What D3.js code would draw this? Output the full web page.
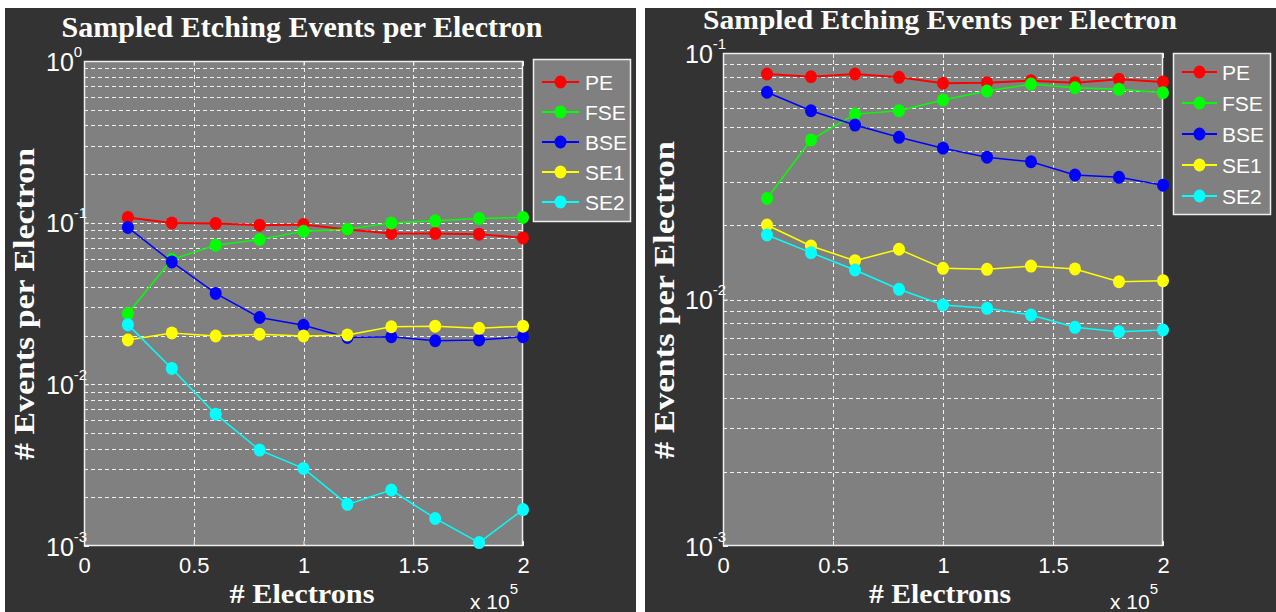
<!DOCTYPE html>
<html><head><meta charset="utf-8">
<script src="https://cdn.jsdelivr.net/npm/d3@7/dist/d3.min.js"></script>
<style>body{margin:0;background:#fff;}svg{display:block}</style>
</head><body>
<svg id="chart" width="1276" height="612"></svg>
<script>
// ---- data ----
const electrons = [20000, 40000, 60000, 80000, 100000, 120000, 140000, 160000, 180000, 200000];
const seriesNames = ["PE", "FSE", "BSE", "SE1", "SE2"];
const seriesColors = ["#ff0000", "#00ff00", "#0000ff", "#ffff00", "#00ffff"];
const xTickValues = [0, 50000, 100000, 150000, 200000];
const xTickLabels = ["0", "0.5", "1", "1.5", "2"];
const titleText = "Sampled Etching Events per Electron";
const yLabelText = "# Events per Electron";
const xLabelText = "# Electrons";

const leftPE  = [0.1077, 0.0997, 0.0989, 0.0965, 0.0975, 0.0908, 0.0858, 0.0858, 0.0849, 0.0805];
const leftFSE = [0.0274, 0.0592, 0.0726, 0.0787, 0.0886, 0.0912, 0.0997, 0.1026, 0.1062, 0.1077];
const leftBSE = [0.0934, 0.0572, 0.0365, 0.0259, 0.0232, 0.0195, 0.0197, 0.0186, 0.0188, 0.0197];
const leftSE1 = [0.0188, 0.0208, 0.0199, 0.0204, 0.0199, 0.0202, 0.0227, 0.0229, 0.0222, 0.0229];
const leftSE2 = [0.0234, 0.01254, 0.00654, 0.00392, 0.00302, 0.00181, 0.00222, 0.00148, 0.00105, 0.00168];
const leftYTickExponents = [0, -1, -2, -3];

const rightPE  = [0.0822, 0.0801, 0.0822, 0.0797, 0.0754, 0.0758, 0.0772, 0.0758, 0.0782, 0.0763];
const rightFSE = [0.0257, 0.0444, 0.0565, 0.0583, 0.0645, 0.0701, 0.0748, 0.0723, 0.0712, 0.0690];
const rightBSE = [0.0693, 0.0583, 0.0510, 0.0455, 0.0411, 0.0378, 0.0362, 0.0320, 0.0313, 0.0291];
const rightSE1 = [0.02006, 0.01648, 0.01437, 0.01599, 0.01338, 0.01326, 0.01367, 0.01330, 0.01181, 0.01192];
const rightSE2 = [0.01827, 0.01549, 0.01317, 0.01100, 0.00950, 0.00921, 0.00865, 0.00771, 0.00740, 0.00752];
const rightYTickExponents = [-1, -2, -3];

// ---- drawing ----
const svg = d3.select("#chart");
const SANS = "'Liberation Sans', Arial, sans-serif";
const SERIF = "'Liberation Serif', 'Times New Roman', serif";

function drawPanel(cfg) {
  const g = svg.append("g");
  g.append("rect").attr("x", cfg.panel[0]).attr("y", cfg.panel[1])
    .attr("width", cfg.panel[2]).attr("height", cfg.panel[3]).attr("fill", "#333333");

  const x = d3.scaleLinear().domain([0, 200000]).range([cfg.plot.x0, cfg.plot.x1]);
  const y = d3.scaleLog().domain([Math.pow(10, d3.min(cfg.yExps)), Math.pow(10, d3.max(cfg.yExps))])
    .range([cfg.plot.y1, cfg.plot.y0]);

  g.append("rect").attr("x", cfg.plot.x0).attr("y", cfg.plot.y0)
    .attr("width", cfg.plot.x1 - cfg.plot.x0).attr("height", cfg.plot.y1 - cfg.plot.y0)
    .attr("fill", "#808080");

  // grid: y minor + major (log)
  const yGridVals = [];
  const lo = d3.min(cfg.yExps), hi = d3.max(cfg.yExps);
  for (let e = lo; e < hi; e++) {
    for (let m = 1; m <= 9; m++) {
      if (e === lo && m === 1) continue;
      yGridVals.push(m * Math.pow(10, e));
    }
  }
  g.append("g").selectAll("line").data(yGridVals).join("line")
    .attr("x1", cfg.plot.x0).attr("x2", cfg.plot.x1)
    .attr("y1", d => Math.round(y(d)) + 0.5).attr("y2", d => Math.round(y(d)) + 0.5)
    .attr("stroke", "#f2f2f2").attr("stroke-width", 1).attr("stroke-dasharray", "4,3");
  g.append("g").selectAll("line").data(xTickValues.slice(1, -1)).join("line")
    .attr("x1", d => Math.round(x(d)) + 0.5).attr("x2", d => Math.round(x(d)) + 0.5)
    .attr("y1", cfg.plot.y0).attr("y2", cfg.plot.y1)
    .attr("stroke", "#f2f2f2").attr("stroke-width", 1).attr("stroke-dasharray", "4,3");

  // x axis (bottom) through d3 axis
  const xAxis = d3.axisBottom(x).tickValues(xTickValues)
    .tickFormat((d, i) => xTickLabels[i]).tickSize(-5).tickPadding(11);
  const xa = g.append("g").attr("transform", `translate(0,${cfg.plot.y1})`).call(xAxis);
  xa.attr("font-size", null).attr("font-family", null);
  xa.select(".domain").remove();
  xa.selectAll("line").attr("stroke", "#eeeeee");
  xa.selectAll("text").attr("fill", "#ffffff").style("font-family", SANS).style("font-size", "22px")
    .attr("dy", "0.71em");
  // top ticks
  const xTop = d3.axisTop(x).tickValues(xTickValues).tickFormat("").tickSize(-5);
  const xt = g.append("g").attr("transform", `translate(0,${cfg.plot.y0})`).call(xTop);
  xt.select(".domain").remove();
  xt.selectAll("line").attr("stroke", "#eeeeee");

  // y axis through d3 axis
  const yTickVals = cfg.yExps.map(e => Math.pow(10, e));
  const yAxis = d3.axisLeft(y).tickValues(yTickVals).tickSize(-5).tickFormat(() => "");
  const ya = g.append("g").attr("transform", `translate(${cfg.plot.x0},0)`).call(yAxis);
  ya.attr("font-size", null).attr("font-family", null);
  ya.select(".domain").remove();
  ya.selectAll("line").attr("stroke", "#eeeeee");
  ya.selectAll(".tick text").each(function (d) {
    const t = d3.select(this);
    const e = Math.round(Math.log10(d));
    t.text(null).attr("x", -38).attr("dy", null).attr("y", 9)
      .attr("text-anchor", "start").attr("fill", "#ffffff")
      .style("font-family", SANS).style("font-size", "25px");
    t.append("tspan").style("font-size", "25px").text("10");
    t.append("tspan").style("font-size", "15px").attr("dy", -14).text(String(e));
  });

  // border
  g.append("rect").attr("x", cfg.plot.x0 + 0.5).attr("y", cfg.plot.y0 + 0.5)
    .attr("width", cfg.plot.x1 - cfg.plot.x0 - 1).attr("height", cfg.plot.y1 - cfg.plot.y0 - 1)
    .attr("fill", "none").attr("stroke", "#eeeeee").attr("stroke-width", 1.5);

  // series
  const line = d3.line().x((d, i) => x(electrons[i])).y(d => y(d));
  cfg.series.forEach((vals, si) => {
    g.append("path").datum(vals).attr("d", line).attr("fill", "none")
      .attr("stroke", seriesColors[si]).attr("stroke-width", si === 0 ? 2 : 1.5);
    g.append("g").selectAll("ellipse").data(vals).join("ellipse")
      .attr("cx", (d, i) => x(electrons[i])).attr("cy", d => y(d))
      .attr("rx", 6).attr("ry", 6.5).attr("fill", seriesColors[si]);
  });

  // legend
  const L = cfg.legend;
  g.append("rect").attr("x", L.x + 0.5).attr("y", L.y + 0.5).attr("width", L.w).attr("height", L.h)
    .attr("fill", "#808080").attr("stroke", "#eeeeee").attr("stroke-width", 1.5);
  seriesNames.forEach((name, i) => {
    const cy = L.first + i * L.step;
    g.append("line").attr("x1", L.lx0).attr("x2", L.lx1).attr("y1", cy).attr("y2", cy)
      .attr("stroke", seriesColors[i]).attr("stroke-width", 2);
    g.append("ellipse").attr("cx", (L.lx0 + L.lx1) / 2).attr("cy", cy).attr("rx", 6).attr("ry", 6.5)
      .attr("fill", seriesColors[i]);
    g.append("text").attr("x", L.tx).attr("y", cy + 7.5).attr("fill", "#ffffff")
      .attr("font-family", SANS).attr("font-size", 21).text(name);
  });

  // title & labels
  g.append("text").attr("x", cfg.title.x).attr("y", cfg.title.y).attr("text-anchor", "middle")
    .attr("fill", "#ffffff").attr("font-family", SERIF).attr("font-weight", "bold")
    .attr("font-size", cfg.title.size).attr("textLength", cfg.title.len)
    .attr("lengthAdjust", "spacingAndGlyphs").text(titleText);
  g.append("text").attr("transform", `translate(${cfg.ylab.x},${cfg.ylab.y}) rotate(-90)`)
    .attr("text-anchor", "middle").attr("fill", "#ffffff").attr("font-family", SERIF)
    .attr("font-weight", "bold").attr("font-size", cfg.ylab.size)
    .attr("textLength", cfg.ylab.len).attr("lengthAdjust", "spacingAndGlyphs").text(yLabelText);
  g.append("text").attr("x", cfg.xlab.x).attr("y", cfg.xlab.y).attr("text-anchor", "middle")
    .attr("fill", "#ffffff").attr("font-family", SERIF).attr("font-weight", "bold")
    .attr("font-size", cfg.xlab.size).attr("textLength", cfg.xlab.len)
    .attr("lengthAdjust", "spacingAndGlyphs").text(xLabelText);
  const ex = g.append("text").attr("x", cfg.xexp.x).attr("y", cfg.xexp.y)
    .attr("fill", "#ffffff").attr("font-family", SANS);
  ex.append("tspan").attr("font-size", 21).text("x 10");
  ex.append("tspan").attr("font-size", 15).attr("dy", -15).text("5");
}

drawPanel({
  panel: [5, 8, 631, 604],
  plot: { x0: 84, x1: 523, y0: 61, y1: 546 },
  yExps: leftYTickExponents,
  series: [leftPE, leftFSE, leftBSE, leftSE1, leftSE2],
  legend: { x: 533, y: 59, w: 97, h: 162, first: 82, step: 30, lx0: 542, lx1: 579, tx: 585 },
  title: { x: 302, y: 37, size: 30, len: 481 },
  ylab: { x: 34, y: 304, size: 30, len: 312 },
  xlab: { x: 302, y: 603, size: 28, len: 145 },
  xexp: { x: 470, y: 609 }
});

drawPanel({
  panel: [645, 8, 631, 604],
  plot: { x0: 723, x1: 1163, y0: 53, y1: 546 },
  yExps: rightYTickExponents,
  series: [rightPE, rightFSE, rightBSE, rightSE1, rightSE2],
  legend: { x: 1173, y: 53, w: 97, h: 161, first: 72, step: 31, lx0: 1182, lx1: 1217, tx: 1222 },
  title: { x: 940, y: 29, size: 27, len: 474 },
  ylab: { x: 674, y: 300, size: 30, len: 318 },
  xlab: { x: 940, y: 603, size: 28, len: 142 },
  xexp: { x: 1110, y: 609 }
});
</script>
</body></html>
